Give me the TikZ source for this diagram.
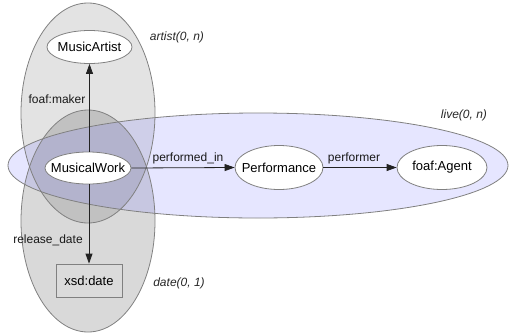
\documentclass[tikz,border=0pt]{standalone}
\usepackage{fontspec}
\setmainfont{Liberation Sans}
\usetikzlibrary{shapes.geometric,arrows.meta}
\definecolor{outl}{HTML}{808080}
\definecolor{edgec}{HTML}{222222}
\newcommand{\ctext}[1]{\makebox[0pt][c]{#1}}
\tikzset{
  cluster/.style={draw=outl, line width=0.8pt},
  cls/.style={ellipse, draw=outl, fill=white, line width=0.8pt, inner sep=0pt, font=\fontsize{13}{15}\selectfont},
  lit/.style={rectangle, draw=outl, fill=black!14, line width=0.8pt, inner sep=0pt, font=\fontsize{13}{15}\selectfont},
  prop/.style={-{Triangle[length=10pt,width=7pt]}, draw=edgec, line width=0.8pt},
  elabel/.style={inner sep=0pt, font=\fontsize{12}{14}\selectfont, text=black!90},
  clabel/.style={inner sep=0pt, font=\fontsize{12}{14}\selectfont\itshape, text=black!85},
}
\begin{document}
\begin{tikzpicture}[x=1pt,y=-1pt]
\useasboundingbox (0,0) rectangle (509,335);
% cluster fills
\fill[black, opacity=0.11] (88,113) ellipse [x radius=67, y radius=110];
\fill[black, opacity=0.15] (88,221) ellipse [x radius=67, y radius=111];
\fill[blue!50, opacity=0.2] (258,165.5) ellipse [x radius=250, y radius=52.5];
% cluster outlines
\draw[cluster] (88,113) ellipse [x radius=67, y radius=110];
\draw[cluster] (88,221) ellipse [x radius=67, y radius=111];
\draw[cluster] (258,165.5) ellipse [x radius=250, y radius=52.5];
% cluster labels
\node[clabel] (lartist) at (177,37) {artist(0, n)};
\node[clabel] (ldate) at (179,283) {date(0, 1)};
\node[clabel] (llive) at (464,115) {live(0, n)};
% nodes
\node[cls, minimum width=85pt, minimum height=33pt] (artist) at (89.5,47) {\ctext{MusicArtist}};
\node[cls, minimum width=86pt, minimum height=32pt] (work) at (88,168) {\ctext{MusicalWork}};
\node[cls, minimum width=88pt, minimum height=44pt] (perf) at (279,167.5) {\ctext{Performance}};
\node[cls, minimum width=90pt, minimum height=44pt] (agent) at (442,167.5) {\ctext{foaf:Agent}};
\node[lit, minimum width=66pt, minimum height=33pt] (date) at (89,280.5) {\ctext{xsd:date}};
% edges
\draw[prop] (work.north -| artist.south) -- (artist.south);
\draw[prop] (work.south -| date.north) -- (date.north);
\draw[prop] (work.east) -- (perf.west);
\draw[prop] (perf.east) -- (agent.west);
% edge labels
\node[elabel] (lmaker) at (57,99) {foaf:maker};
\node[elabel] (lrel) at (48,240) {release\_date};
\node[elabel] (lperfin) at (188,158) {performed\_in};
\node[elabel] (lperformer) at (354,158) {performer};
\end{tikzpicture}
\end{document}
